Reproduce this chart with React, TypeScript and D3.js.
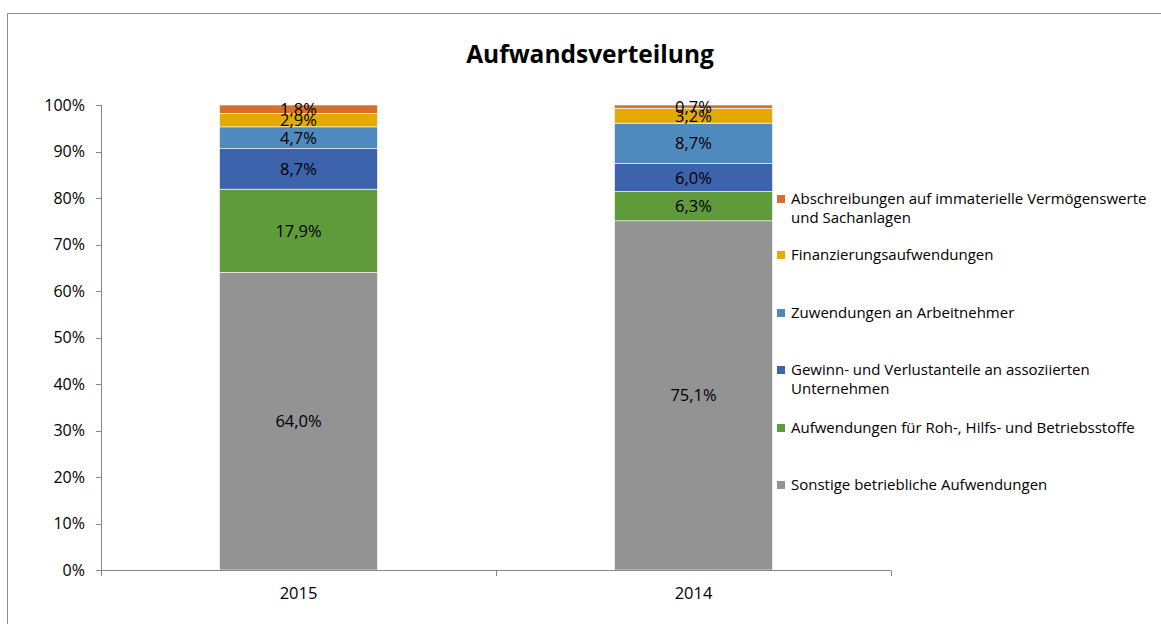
import React from "react";
import * as d3 from "d3";

const categories = ["2015", "2014"];
const seriesNames = [
  "Sonstige betriebliche Aufwendungen",
  "Aufwendungen für Roh-, Hilfs- und Betriebsstoffe",
  "Gewinn- und Verlustanteile an assoziierten Unternehmen",
  "Zuwendungen an Arbeitnehmer",
  "Finanzierungsaufwendungen",
  "Abschreibungen auf immaterielle Vermögenswerte und Sachanlagen",
];
const legendLines = [
  ["Sonstige betriebliche Aufwendungen"],
  ["Aufwendungen für Roh-, Hilfs- und Betriebsstoffe"],
  ["Gewinn- und Verlustanteile an assoziierten", "Unternehmen"],
  ["Zuwendungen an Arbeitnehmer"],
  ["Finanzierungsaufwendungen"],
  ["Abschreibungen auf immaterielle Vermögenswerte", "und Sachanlagen"],
];
const values2015 = [64.0, 17.9, 8.7, 4.7, 2.9, 1.8];
const values2014 = [75.1, 6.3, 6.0, 8.7, 3.2, 0.7];
const colors = ["#939393", "#5F9A3B", "#3D63AC", "#4E8ABE", "#E4AA00", "#D56F2C"];
const yTicks = [0, 10, 20, 30, 40, 50, 60, 70, 80, 90, 100];
const legendY = [485, 428, 370, 313, 255, 199];

const FONT = "'Open Sans', 'Noto Sans', sans-serif";

export default function App() {
  const W = 1161, H = 624;
  const x = d3.scaleBand().domain(categories).range([101, 891]);
  const y = d3.scaleLinear().domain([0, 100]).range([570, 105]);
  const barW = x.bandwidth() / 2.5;
  const dataByCat: Record<string, number[]> = { "2015": values2015, "2014": values2014 };
  const rows = categories.map((c) => {
    const o: any = { cat: c };
    seriesNames.forEach((s, i) => (o[s] = dataByCat[c][i]));
    return o;
  });
  const stack = d3.stack<any>().keys(seriesNames)(rows);
  const fmt = (v: number) => v.toFixed(1).replace(".", ",") + "%";

  return (
    <svg width={W} height={H} style={{ position: "absolute", left: 0, top: 0, background: "#fff" }} fontFamily={FONT}>
      <line x1={7.5} y1={13.5} x2={W} y2={13.5} stroke="#8c8c8c" />
      <line x1={7.5} y1={13.5} x2={7.5} y2={H} stroke="#8c8c8c" />
      <text x={590} y={63} textAnchor="middle" fontSize={24.5} fontWeight="bold" fill="#000">
        Aufwandsverteilung
      </text>
      {/* y axis */}
      <line x1={101.5} y1={y(0)} x2={101.5} y2={y(100)} stroke="#868686" />
      {yTicks.map((t) => (
        <g key={t}>
          <line x1={96} x2={101.5} y1={Math.round(y(t)) + 0.5} y2={Math.round(y(t)) + 0.5} stroke="#868686" />
          <text x={85} y={y(t) + 5.5} textAnchor="end" fontSize={16} fill="#000">
            {t}%
          </text>
        </g>
      ))}
      {/* bars */}
      {stack.map((layer, si) =>
        layer.map((d, ci) => {
          const cat = categories[ci];
          const bx = (x(cat) as number) + (x.bandwidth() - barW) / 2;
          return (
            <rect
              key={si + "-" + ci}
              x={bx}
              y={y(d[1])}
              width={barW}
              height={y(d[0]) - y(d[1])}
              fill={colors[si]}
              stroke="#fff"
              strokeWidth={0.6}
            />
          );
        })
      )}
      {stack.map((layer, si) =>
        layer.map((d, ci) => {
          const cat = categories[ci];
          const cx = (x(cat) as number) + x.bandwidth() / 2;
          return (
            <text key={"l" + si + "-" + ci} x={cx} y={y((d[0] + d[1]) / 2) + 6} textAnchor="middle" fontSize={16.5} fill="#000">
              {fmt(d[1] - d[0])}
            </text>
          );
        })
      )}
      {/* x axis */}
      <line x1={101} y1={570.5} x2={891} y2={570.5} stroke="#868686" />
      {[0, 1, 2].map((i) => {
        const xx = Math.round(101 + i * x.step()) + 0.5;
        return <line key={i} x1={xx} x2={xx} y1={570.5} y2={576} stroke="#868686" />;
      })}
      {categories.map((c) => (
        <text key={c} x={(x(c) as number) + x.bandwidth() / 2} y={599} textAnchor="middle" fontSize={16.5} fill="#000">
          {c}
        </text>
      ))}
      {/* legend */}
      {seriesNames.map((s, i) => (
        <g key={s}>
          <rect x={777} y={legendY[i] - 4} width={8} height={8} fill={colors[i]} />
          {legendLines[i].map((ln, k) => (
            <text key={k} x={791} y={legendY[i] + 5 + k * 19} fontSize={15} fill="#000">
              {ln}
            </text>
          ))}
        </g>
      ))}
    </svg>
  );
}
